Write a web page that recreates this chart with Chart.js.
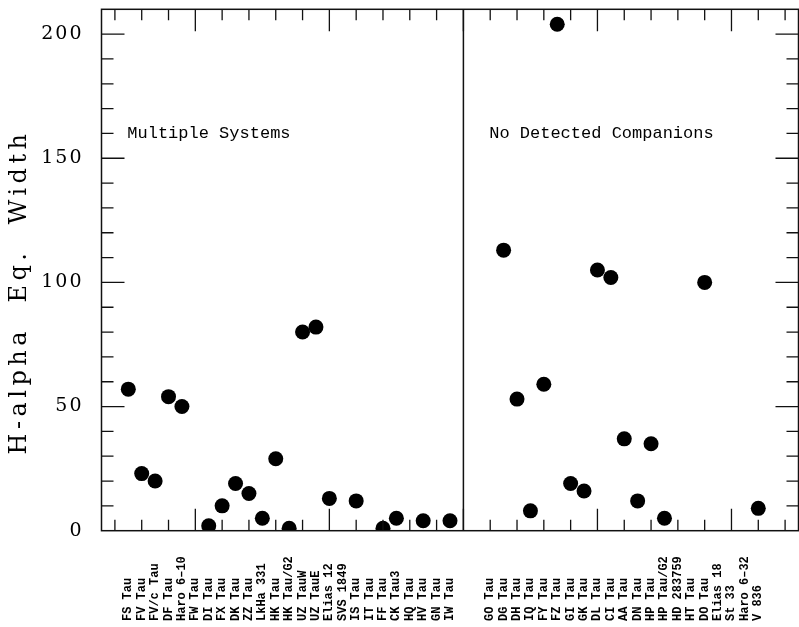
<!DOCTYPE html>
<html><head><meta charset="utf-8">
<script src="https://cdn.jsdelivr.net/npm/chart.js@4"></script>
<style>
html,body{margin:0;padding:0;background:#fff;overflow:hidden;}
#wrap{width:806px;height:627px;position:relative;}
</style></head><body>
<div id="wrap"><canvas id="c"></canvas></div>
<script>
// Categories: 25 multiple systems, two empty gap slots, 21 with no detected companions
const categories = [
  "FS Tau","FV Tau","FV/c Tau","DF Tau","Haro 6–10","FW Tau","DI Tau","FX Tau","DK Tau","ZZ Tau",
  "LkHa 331","HK Tau","HK Tau/G2","UZ TauW","UZ TauE","Elias 12","SVS 1849","IS Tau","IT Tau","FF Tau",
  "CK Tau3","HQ Tau","HV Tau","GN Tau","IW Tau",
  "","",
  "GO Tau","DG Tau","DH Tau","IQ Tau","FY Tau","FZ Tau","GI Tau","GK Tau","DL Tau","CI Tau",
  "AA Tau","DN Tau","HP Tau","HP Tau/G2","HD 283759","HT Tau","DO Tau","Elias 18","St 33","Haro 6–32","V 836"
];
// H-alpha equivalent width per category (null = no point plotted)
const hAlphaEW = [
  57,23,20,54,50,null,2,10,19,15,
  5,29,1,80,82,13,null,12,null,1,
  5,null,4,null,4,
  null,null,
  null,113,53,8,59,204,19,16,105,102,
  37,12,35,5,null,null,100,null,null,null,9
];
const groupLabels = ["Multiple Systems", "No Detected Companions"];
const yTickValues = [0, 50, 100, 150, 200];
const yTitle = "H-alpha  Eq.  Width";

const points = [];
hAlphaEW.forEach((v, i) => { if (v !== null) points.push({x: i, y: v}); });

const framePlugin = {
  id: 'frame',
  beforeDraw(chart) { chart.ctx.letterSpacing = '2px'; },
  afterDraw(chart) {
    const {ctx, chartArea: a, scales: {x, y}} = chart;
    ctx.save();
    ctx.letterSpacing = '0px';
    ctx.strokeStyle = '#111';
    ctx.lineWidth = 1.5;
    ctx.strokeRect(a.left, a.top, a.right - a.left, a.bottom - a.top);
    // divider between the two groups
    const xd = x.getPixelForValue(25);
    ctx.beginPath(); ctx.moveTo(xd, a.top); ctx.lineTo(xd, a.bottom); ctx.stroke();
    // x tick marks (inward, top and bottom)
    ctx.lineWidth = 1.3;
    for (let s = -1; s <= 49; s += 2) {
      const px = x.getPixelForValue(s);
      const L = (((s % 10) + 10) % 10 === 5) ? 22 : 11;
      ctx.beginPath();
      ctx.moveTo(px, a.bottom); ctx.lineTo(px, a.bottom - L);
      ctx.moveTo(px, a.top); ctx.lineTo(px, a.top + L);
      ctx.stroke();
    }
    // y tick marks (inward, left and right)
    for (let v = 10; v <= 200; v += 10) {
      const py = y.getPixelForValue(v);
      const L = (v % 50 === 0) ? 23 : 12;
      ctx.beginPath();
      ctx.moveTo(a.left, py); ctx.lineTo(a.left + L, py);
      ctx.moveTo(a.right, py); ctx.lineTo(a.right - L, py);
      ctx.stroke();
    }
    // category labels, rotated, starting at the bottom
    ctx.fillStyle = '#000';
    ctx.font = 'bold 12px "Liberation Mono"';
    ctx.textAlign = 'left';
    ctx.textBaseline = 'middle';
    categories.forEach((name, i) => {
      if (!name) return;
      const px = x.getPixelForValue(i);
      ctx.save();
      ctx.translate(px, 621);
      ctx.rotate(-Math.PI / 2);
      ctx.fillText(name, 0, 0);
      ctx.restore();
    });
    // group labels
    ctx.font = '17px "Liberation Mono"';
    ctx.textBaseline = 'middle';
    ctx.fillText(groupLabels[0], x.getPixelForValue(0) - 1, y.getPixelForValue(160));
    ctx.fillText(groupLabels[1], x.getPixelForValue(27) - 1, y.getPixelForValue(160));
    // y axis title
    ctx.font = '24px "DejaVu Serif"';
    ctx.letterSpacing = '4.5px';
    ctx.textAlign = 'center';
    ctx.textBaseline = 'alphabetic';
    ctx.save();
    ctx.translate(26, 292);
    ctx.rotate(-Math.PI / 2);
    ctx.fillText(yTitle, 0, 0);
    ctx.restore();
    ctx.restore();
  }
};

new Chart(document.getElementById('c'), {
  type: 'scatter',
  data: {
    datasets: [{
      label: 'H-alpha Eq. Width',
      data: points,
      backgroundColor: '#000',
      borderColor: '#000',
      borderWidth: 0,
      pointRadius: 7.5,
      pointHoverRadius: 7.5
    }]
  },
  options: {
    responsive: true,
    maintainAspectRatio: false,
    animation: false,
    layout: {padding: {top: 9.3, right: 2.5, bottom: 0, left: 0}},
    plugins: {legend: {display: false}, tooltip: {enabled: false}},
    scales: {
      x: {
        type: 'linear', min: -2, max: 50,
        grid: {display: false},
        border: {display: false},
        ticks: {display: false},
        afterFit(s) { s.height = 96.3; s.paddingLeft = 0; s.paddingRight = 0; }
      },
      y: {
        type: 'linear', min: 0, max: 210,
        grid: {display: false},
        border: {display: false},
        afterBuildTicks(s) { s.ticks = yTickValues.map(v => ({value: v})); },
        ticks: {
          color: '#000',
          padding: 10,
          font: {family: '"DejaVu Serif"', size: 19}
        },
        afterFit(s) { s.width = 101.5; s.paddingTop = 0; s.paddingBottom = 0; }
      }
    }
  },
  plugins: [framePlugin]
});
</script>
</body></html>
